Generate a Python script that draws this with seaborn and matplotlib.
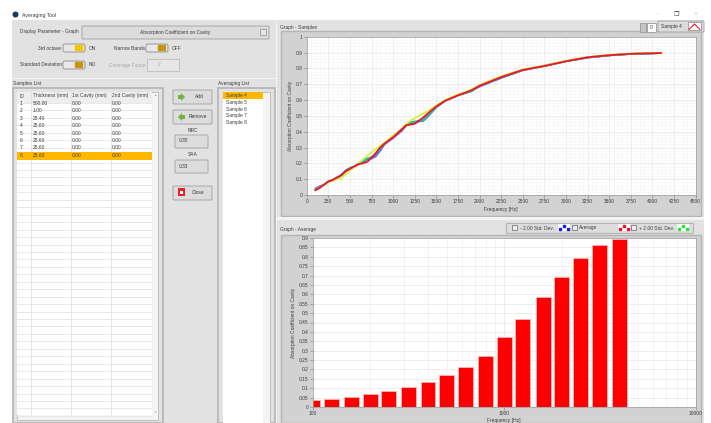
"""Averaging Tool window: sample absorption curves and third-octave average bars."""

import matplotlib
matplotlib.use("Agg")
import matplotlib.pyplot as plt
from matplotlib.patches import Rectangle, FancyBboxPatch, Polygon
from matplotlib.ticker import FixedLocator, FuncFormatter, NullFormatter
import pandas as pd
import seaborn as sns

sns.set_theme(style="white")
plt.rcParams["font.family"] = ["Liberation Sans", "DejaVu Sans"]

curve_freq = [100, 150, 200, 250, 300, 350, 400, 450, 500, 550, 600, 650, 700, 750, 800, 850,
              900, 1000, 1100, 1150, 1200, 1250, 1300, 1350, 1400, 1500, 1600, 1750, 1900, 2000,
              2250, 2500, 2750, 3000, 3250, 3500, 3750, 4000, 4100]
sample_purple = [0.04, 0.055, 0.065, 0.085, 0.095, 0.11, 0.125, 0.155, 0.17, 0.18, 0.195, 0.21, 0.225, 0.23, 0.245,
                 0.28, 0.32, 0.36, 0.405, 0.44, 0.455, 0.46, 0.465, 0.47, 0.50, 0.555, 0.595, 0.63, 0.655, 0.685,
                 0.74, 0.788, 0.815, 0.845, 0.868, 0.882, 0.891, 0.895, 0.897]
sample_blue = [0.035, 0.05, 0.065, 0.085, 0.095, 0.11, 0.125, 0.15, 0.17, 0.18, 0.195, 0.21, 0.23, 0.235, 0.25,
               0.285, 0.325, 0.365, 0.41, 0.44, 0.455, 0.46, 0.465, 0.47, 0.495, 0.555, 0.595, 0.63, 0.655, 0.69,
               0.74, 0.79, 0.817, 0.845, 0.868, 0.882, 0.891, 0.895, 0.897]
sample_green = [0.03, 0.045, 0.065, 0.085, 0.095, 0.105, 0.125, 0.15, 0.165, 0.18, 0.20, 0.215, 0.23, 0.24, 0.26,
                0.295, 0.325, 0.37, 0.415, 0.445, 0.46, 0.465, 0.47, 0.475, 0.505, 0.555, 0.595, 0.63, 0.655, 0.69,
                0.745, 0.79, 0.815, 0.845, 0.87, 0.883, 0.892, 0.895, 0.897]
sample_yellow = [0.03, 0.045, 0.065, 0.08, 0.09, 0.10, 0.105, 0.13, 0.155, 0.175, 0.20, 0.225, 0.25, 0.27, 0.29,
                 0.31, 0.33, 0.375, 0.42, 0.45, 0.47, 0.485, 0.50, 0.515, 0.53, 0.565, 0.60, 0.635, 0.665, 0.695,
                 0.75, 0.793, 0.818, 0.848, 0.872, 0.885, 0.893, 0.896, 0.898]
sample_red = [0.03, 0.045, 0.065, 0.085, 0.095, 0.11, 0.125, 0.15, 0.165, 0.18, 0.195, 0.20, 0.21, 0.235, 0.265,
              0.30, 0.325, 0.365, 0.415, 0.44, 0.445, 0.45, 0.47, 0.49, 0.515, 0.56, 0.595, 0.63, 0.66, 0.69,
              0.745, 0.79, 0.815, 0.845, 0.87, 0.883, 0.892, 0.895, 0.897]
curve_colors = {"purple": "#9a4fe0", "blue": "#3f7fe0", "green": "#22c79a", "yellow": "#d8f23a", "red": "#f0142a"}

band_freq = [100, 125, 160, 200, 250, 315, 400, 500, 630, 800, 1000, 1250, 1600, 2000, 2500, 3150, 4000]
band_avg = [0.035, 0.043, 0.053, 0.067, 0.087, 0.105, 0.135, 0.172, 0.215, 0.273, 0.373, 0.47,
            0.586, 0.692, 0.793, 0.865, 0.897]

# table and list text
table_header = ["ID", "Thickness (mm)", "1st Cavity (mm)", "2nd Cavity (mm)"]
table_ids = ["1", "2", "3", "4", "5", "6", "7", "8"]
table_thick = ["500.00", "1.00", "25.40", "25.60", "25.60", "25.60", "25.60", "25.60"]
table_cav = ["0.00"] * 8
avg_list = ["Sample 4", "Sample 5", "Sample 6", "Sample 7", "Sample 8"]

W, H = 711, 423
PANEL = "#e2e2e2"
FRAME = "#b4b4b4"
ORANGE = "#ffb800"
TXT = "#3c3c3c"
FS = 3.55

fig = plt.figure(figsize=(W / 100, H / 100), dpi=100, facecolor="white")
ui = fig.add_axes([0, 0, 1, 1], zorder=0)
ui.set_xlim(0, W)
ui.set_ylim(H, 0)
ui.axis("off")


def rect(x, y, w, h, fc=PANEL, ec="none", lw=0.6, z=1):
    ui.add_patch(Rectangle((x, y), w, h, fc=fc, ec=ec, lw=lw, zorder=z))


def label(x, y, s, ha="left", size=FS, color=TXT, z=5):
    ui.text(x, y, s, ha=ha, va="center", fontsize=size, color=color, zorder=z)


def button(x, y, w, h, s=None, tx=None):
    ui.add_patch(FancyBboxPatch((x + 1, y + 1), w - 2, h - 2, boxstyle="round,pad=1", fc="#dcdcdc", ec="#a8a8a8",
                                lw=0.7, zorder=3))
    if s:
        label(x + w / 2 if tx is None else tx, y + h / 2, s, ha="center")


def toggle(x, y, c):
    ui.add_patch(FancyBboxPatch((x + 2, y + 2), 18, 4, boxstyle="round,pad=2", fc="#e8e8e8", ec="#8a8a8a",
                                lw=0.6, zorder=3))
    ui.add_patch(FancyBboxPatch((x + 13, y + 2), 6, 4, boxstyle="round,pad=1.2", fc=c, ec="none", zorder=4))


# window background and panels
label(22, 15, "Averaging Tool", size=3.7)
ui.add_patch(plt.Circle((15.5, 14.5), 3, fc="#1c3a5a", ec="none", zorder=3))
label(676, 14, "❐", ha="center", size=4.5)
label(658, 14, "–", ha="center", size=4, color="#cccccc")
label(696, 14, "×", ha="center", size=5, color="#cccccc")
rect(12, 20, 692, 403)

# top controls
label(20, 32, "Display Parameter - Graph")
button(82, 26, 187, 13, "Absorption Coefficient on Cavity")
rect(260, 29, 6, 6, fc="#e6e6e6", ec="#999999", z=4)
label(38, 48, "3rd octave")
toggle(63, 44, "#f7c600")
label(89, 48, "ON")
label(114, 48, "Narrow Bands")
toggle(146, 44, "#c8940c")
label(172, 48, "OFF")
label(20, 65, "Standard Deviation")
toggle(63, 61, "#c8940c")
label(89, 65, "NO")
label(109, 65, "Coverage Factor", color="#aaaaaa")
rect(147, 59, 32, 12, fc="#e6e6e6", ec="#bdbdbd", z=3)
label(158, 65, "2", color="#aaaaaa")

# samples table
label(13, 83, "Samples List")
label(218, 83, "Averaging List")
rect(12, 78, 264, 1.2, fc="#f2f2f2", z=2)
rect(13, 88, 150, 335, fc=PANEL, ec=FRAME, lw=1.2, z=2)
rect(17, 92, 141, 328, fc="#f4f4f4", ec="#b8b8b8", z=2)
rect(17, 92, 135, 323, fc="white", z=2)
row_h = 7.45
for i in range(43):
    ui.plot([17, 152], [103 + i * row_h] * 2, color="#e4e4e4", lw=0.6, zorder=3)
for cx in (31, 70.5, 110.5):
    ui.plot([cx, cx], [92, 415], color="#e0e0e0", lw=0.6, zorder=3)
rect(17, 92, 135, 11, fc="#eeeeee", z=2.5)
for cx, s in zip((20, 33, 72, 112.5), table_header):
    label(cx, 96, s)
rect(17, 152.5, 135, 7.5, fc=ORANGE, z=3.5)
for i in range(8):
    y = 103.5 + (i * 7.4)
    label(20, y, table_ids[i])
    label(33, y, table_thick[i])
    label(72, y, table_cav[i])
    label(112, y, table_cav[i])
label(155, 95, "▲", ha="center", size=2.5, color="#aaaaaa")
label(155, 412, "▼", ha="center", size=2.5, color="#aaaaaa")

# middle buttons
button(173, 90, 39, 14, "Add", tx=199)
ui.add_patch(Polygon([[178, 95], [181, 95], [181, 93], [185, 97], [181, 101], [181, 99], [178, 99]], fc="#6fb23c",
                     ec="none", zorder=5))
button(173, 110, 39, 14, "Remove", tx=198)
ui.add_patch(Polygon([[185, 115], [182, 115], [182, 113], [178, 117], [182, 121], [182, 119], [185, 119]],
                     fc="#6fb23c", ec="none", zorder=5))
label(193, 130, "NRC", ha="center")
button(175, 135, 33, 13)
label(179, 141, "0.35")
label(193, 155, "SAA", ha="center")
button(175, 160, 33, 13)
label(179, 167, "0.33")
button(173, 186, 39, 14, "Close", tx=198)
rect(178, 188.5, 7, 8, fc="#e8202a", z=5)
rect(180, 191, 3, 3, fc="white", z=6)

# averaging list
rect(218, 88, 57, 335, fc=PANEL, ec=FRAME, lw=1.2, z=2)
rect(223, 92, 47, 331, fc="#f4f4f4", ec="#b8b8b8", z=2)
rect(223, 92, 40, 331, fc="white", z=2)
rect(223, 92.5, 40, 6.5, fc=ORANGE, z=3)
for i, s in enumerate(avg_list):
    label(226, 96 + i * 6.6, s)

# graph frames on the right
rect(276, 20, 1.2, 403, fc="#f2f2f2", z=2)
label(280, 27, "Graph - Samples")
rect(281, 31, 420, 185, fc="#d2d2d2", ec=FRAME, lw=1, z=2)
rect(276, 217.5, 428, 2.5, fc="#f4f4f4", z=2)
label(280, 229, "Graph - Average")
rect(281, 235, 420, 188, fc="#d2d2d2", ec=FRAME, lw=1, z=2)

# plot legends
rect(640, 23, 6, 9, fc="#c4c4c4", ec="#999999", z=3)
rect(647, 23, 9, 9, fc="white", ec="#999999", z=3)
label(651.5, 27.5, "0", ha="center")
button(658, 21, 46, 11, "Sample 4", tx=671)
rect(688, 22.5, 13, 8, fc="white", ec="#999999", z=4)
ui.plot([689, 694.5, 700], [29.5, 24, 29.5], color="#f0142a", lw=0.8, zorder=5)

rect(506, 223, 187, 10.5, fc="#dddddd", ec=FRAME, lw=0.8, z=2)
for bx, s, lx in ((512, "- 2.00 Std. Dev.", 520), (572, "Average", 579), (631, "+ 2.00 Std. Dev.", 639)):
    rect(bx, 225.5, 5, 5, fc="#eeeeee", ec="#777777", z=3)
    label(lx, 228, s)
for kx, c in ((564, "#1420e8"), (623.5, "#f0142a"), (682.5, "#22e838")):
    rect(kx - 6, 224.5, 12, 7, fc="white", z=3)
    ui.plot([kx - 4, kx, kx + 4], [229.5, 226.5, 229.5], ls="none", marker="s", ms=1.5, color=c, zorder=4)


def px_axes(left, top, right, bottom):
    return fig.add_axes([left / W, 1 - bottom / H, (right - left) / W, (bottom - top) / H], zorder=2)


def style_axes(ax, xlabel):
    ax.set_facecolor("white")
    for s in ax.spines.values():
        s.set_color("#9a9a9a")
        s.set_linewidth(0.5)
    ax.tick_params(which="major", length=2, width=0.4, color="#777777", labelsize=3.5, pad=1, labelcolor=TXT,
                   left=True, bottom=True)
    ax.set_xlabel(xlabel, fontsize=FS, color=TXT, labelpad=1)
    ax.set_ylabel("Absorption Coefficient on Cavity", fontsize=FS, color=TXT, labelpad=2)
    ax.set_axisbelow(True)
    ax.grid(True, which="major", color="#e6e6e6", lw=0.5)
    ax.grid(True, which="minor", color="#f5f5f5", lw=0.4)


# Graph - Samples
curves = pd.DataFrame({"freq": curve_freq, "purple": sample_purple, "blue": sample_blue, "green": sample_green,
                       "yellow": sample_yellow, "red": sample_red}).melt("freq", var_name="sample", value_name="abs")
ax1 = px_axes(306.7, 36.7, 695.7, 195)
sns.lineplot(data=curves, x="freq", y="abs", hue="sample", palette=curve_colors, estimator=None, lw=1.3,
             legend=False, ax=ax1)
ax1.set_xlim(0, 4500)
ax1.set_ylim(0, 1)
ax1.xaxis.set_major_locator(FixedLocator(range(0, 4501, 250)))
ax1.xaxis.set_minor_locator(FixedLocator(range(0, 4501, 50)))
ax1.yaxis.set_major_locator(FixedLocator([i / 10 for i in range(11)]))
ax1.yaxis.set_minor_locator(FixedLocator([i / 50 for i in range(51)]))
ax1.yaxis.set_major_formatter(FuncFormatter(lambda v, _: f"{v:g}"))
style_axes(ax1, "Frequency [Hz]")

# Graph - Average
ax2 = px_axes(312.7, 238, 695.7, 407)
sns.barplot(x=band_freq, y=band_avg, native_scale=True, log_scale=(True, False), color="#ff0000", saturation=1,
            width=0.8, edgecolor="#ffb4b4", linewidth=0.6, ax=ax2)
ax2.set_xlim(100, 10000)
ax2.set_ylim(0, 0.9)
ax2.xaxis.set_major_locator(FixedLocator([100, 1000, 10000]))
ax2.xaxis.set_major_formatter(FuncFormatter(lambda v, _: f"{v:g}"))
ax2.xaxis.set_minor_formatter(NullFormatter())
ax2.yaxis.set_major_locator(FixedLocator([i * 0.05 for i in range(19)]))
ax2.yaxis.set_major_formatter(FuncFormatter(lambda v, _: f"{v:.2f}".rstrip("0").rstrip(".")))
style_axes(ax2, "Frequency [Hz]")
ax2.xaxis.set_minor_locator(FixedLocator([m * d for d in (100, 1000) for m in range(2, 10)]))
ax2.grid(True, which="minor", axis="x", color="#ececec", lw=0.4)
ax2.tick_params(axis="x", which="minor", length=1, width=0.3, color="#777777")

fig.savefig("out.png", dpi=100, facecolor="white")
plt.close(fig)
